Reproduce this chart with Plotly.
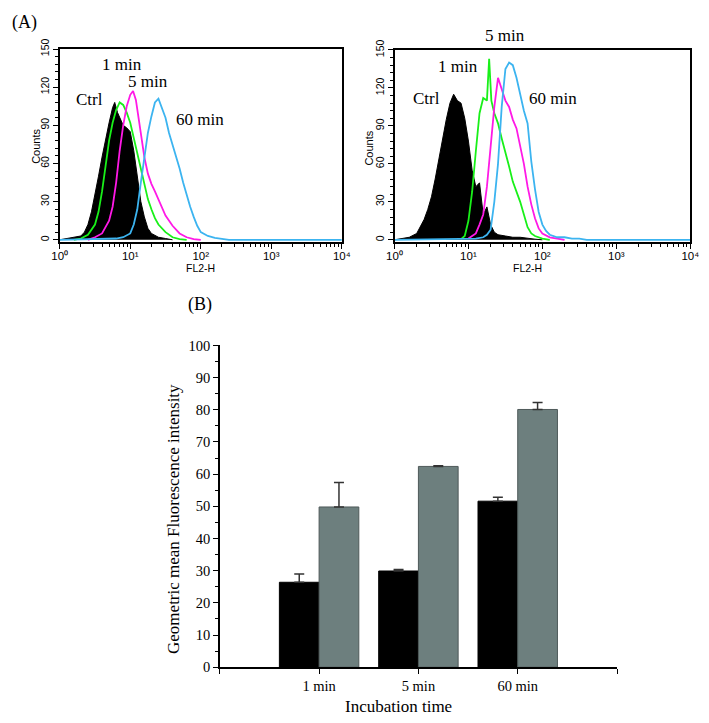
import plotly.graph_objects as go

W, H = 709, 723

# ---------------- Data: flow cytometry histograms (x as log10 FL2-H, y counts) ----------------
# Left panel
ctrl1_logx = [0.0, 0.1, 0.2, 0.3, 0.35, 0.4, 0.45, 0.5, 0.55, 0.6, 0.65, 0.7, 0.75, 0.78, 0.82, 0.86, 0.9,
              0.95, 1.0, 1.05, 1.1, 1.15, 1.2, 1.25, 1.3, 1.4, 1.5, 1.6]
ctrl1_cnt = [0, 1, 2, 3, 6, 12, 22, 35, 50, 65, 80, 92, 104, 108, 100, 95, 90,
             88, 85, 70, 50, 30, 18, 9, 5, 2, 1, 0]
g1_logx = [0.2, 0.3, 0.4, 0.5, 0.55, 0.6, 0.65, 0.7, 0.75, 0.8, 0.85, 0.9, 0.95, 1.0, 1.05, 1.1, 1.15,
           1.2, 1.25, 1.3, 1.35, 1.4, 1.5, 1.6, 1.7, 1.8]
g1_cnt = [0, 1, 4, 12, 22, 38, 58, 78, 92, 102, 108, 106, 100, 92, 80, 68, 56,
          44, 32, 24, 17, 12, 6, 2, 0.5, 0]
m1_logx = [0.4, 0.5, 0.6, 0.7, 0.75, 0.8, 0.85, 0.9, 0.95, 1.0, 1.04, 1.08, 1.12, 1.16, 1.2, 1.25, 1.3,
           1.35, 1.4, 1.45, 1.5, 1.6, 1.7, 1.8, 1.9, 2.0]
m1_cnt = [0, 2, 5, 15, 26, 45, 70, 90, 105, 114, 117, 110, 95, 80, 65, 52, 44,
          38, 32, 25, 19, 11, 5, 2, 0.5, 0]
c1_logx = [0.0, 0.3, 0.8, 0.9, 1.0, 1.05, 1.1, 1.15, 1.2, 1.25, 1.3, 1.35, 1.4, 1.45, 1.5, 1.55, 1.6,
           1.65, 1.7, 1.75, 1.8, 1.85, 1.9, 1.95, 2.0, 2.1, 2.2, 2.3, 2.4, 4.0]
c1_cnt = [0, 0.5, 1, 2, 5, 12, 24, 45, 66, 84, 97, 108, 111, 104, 96, 84, 75,
          66, 56, 45, 35, 26, 18, 11, 6, 3, 1.5, 1, 0, 0]

# Right panel
ctrl2_logx = [0.0, 0.1, 0.2, 0.3, 0.35, 0.4, 0.45, 0.5, 0.55, 0.6, 0.65, 0.7, 0.75, 0.8, 0.85, 0.9, 0.95,
              1.0, 1.05, 1.1, 1.15, 1.2, 1.25, 1.3, 1.35, 1.4, 1.5, 1.6, 1.7, 1.8, 1.9, 2.0]
ctrl2_cnt = [0, 1, 2, 5, 10, 16, 24, 34, 48, 64, 80, 95, 108, 115, 110, 108, 96,
             78, 55, 42, 45, 20, 26, 12, 6, 4, 3, 2, 2, 1, 0.5, 0]
g2_logx = [0.9, 0.95, 1.0, 1.05, 1.1, 1.15, 1.2, 1.25, 1.28, 1.31, 1.35, 1.4, 1.45, 1.5, 1.55, 1.6, 1.65,
           1.7, 1.75, 1.8, 1.85, 1.9, 2.0, 2.1]
g2_cnt = [0.5, 3, 15, 38, 70, 100, 112, 110, 143, 110, 100, 92, 80, 70, 58, 46, 38,
          30, 20, 10, 5, 3, 1, 0]
m2_logx = [1.0, 1.1, 1.15, 1.2, 1.25, 1.3, 1.35, 1.4, 1.45, 1.5, 1.55, 1.6, 1.65, 1.7, 1.75, 1.8, 1.85,
           1.9, 1.95, 2.0, 2.1, 2.2, 2.3]
m2_cnt = [1, 5, 12, 20, 42, 75, 105, 128, 118, 110, 105, 95, 88, 75, 60, 42, 28,
          17, 9, 5, 2, 1, 0]
c2_logx = [0.0, 1.1, 1.2, 1.25, 1.3, 1.35, 1.4, 1.45, 1.5, 1.55, 1.6, 1.65, 1.7, 1.75, 1.8, 1.85, 1.9,
           1.95, 2.0, 2.05, 2.1, 2.2, 2.3, 2.4, 2.5, 2.6, 4.0]
c2_cnt = [0, 1, 2, 4, 8, 30, 60, 105, 135, 140, 138, 128, 115, 102, 92, 62, 40,
          22, 12, 7, 4, 2, 2, 1, 1, 0, 0]

# ---------------- Data: bar chart ----------------
categories = ["1 min", "5 min", "60 min"]
black_vals = [26.4, 29.9, 51.6]
black_err = [2.6, 0.5, 1.2]
gray_vals = [49.8, 62.4, 80.1]
gray_err = [7.6, 0.2, 2.2]

hist_ticks = [1, 10, 100, 1000, 10000]
hist_ticktext = ["10⁰", "10¹", "10²", "10³", "10⁴"]
count_ticks = [0, 30, 60, 90, 120, 150]

GREEN = "#19f019"
MAGENTA = "#ff19e6"
CYAN = "#3cb4f0"
BARGRAY = "#6d7f7e"

SERIF = "Liberation Serif, Times New Roman, serif"
SANS = "Liberation Sans, Arial, sans-serif"


def px_x(p):
    return p / W


def px_y(p):
    return 1 - p / H


def tolin(lx):
    return [10 ** v for v in lx]


fig = go.Figure()


def add_hist(xa, ya, ctrl, curves):
    cx, cy = ctrl
    fig.add_trace(go.Scatter(x=tolin(cx), y=cy, mode="lines", fill="tozeroy",
                             line=dict(color="black", width=1), fillcolor="black",
                             xaxis=xa, yaxis=ya, showlegend=False, hoverinfo="skip"))
    for (lx, ly, col) in curves:
        fig.add_trace(go.Scatter(x=tolin(lx), y=ly, mode="lines",
                                 line=dict(color=col, width=1.8),
                                 xaxis=xa, yaxis=ya, showlegend=False, hoverinfo="skip"))


add_hist("x", "y", (ctrl1_logx, ctrl1_cnt),
         [(g1_logx, g1_cnt, GREEN), (m1_logx, m1_cnt, MAGENTA), (c1_logx, c1_cnt, CYAN)])
add_hist("x2", "y2", (ctrl2_logx, ctrl2_cnt),
         [(g2_logx, g2_cnt, GREEN), (m2_logx, m2_cnt, MAGENTA), (c2_logx, c2_cnt, CYAN)])

# Bars
xpos = [1, 2, 3]
fig.add_trace(go.Bar(x=xpos, y=black_vals, marker=dict(color="black", line=dict(color="black", width=1)),
                     error_y=dict(type="data", array=black_err, arrayminus=[0, 0, 0], symmetric=False,
                                  color="#333333", thickness=1.5, width=5),
                     xaxis="x3", yaxis="y3", showlegend=False, offsetgroup="a"))
fig.add_trace(go.Bar(x=xpos, y=gray_vals, marker=dict(color=BARGRAY, line=dict(color="#4f5a5a", width=1)),
                     error_y=dict(type="data", array=gray_err, arrayminus=[0, 0, 0], symmetric=False,
                                  color="#333333", thickness=1.5, width=5),
                     xaxis="x3", yaxis="y3", showlegend=False, offsetgroup="b"))

log_minor = [m * 10 ** e for e in range(0, 4) for m in range(2, 10)]

hist_x_common = dict(type="log", range=[0, 4], tickvals=hist_ticks, ticktext=hist_ticktext,
                     ticks="outside", ticklen=5, tickwidth=1.2, tickcolor="black",
                     ticklabelstandoff=-3,
                     showline=True, linecolor="black", linewidth=1.5, mirror=True,
                     showgrid=False, zeroline=False,
                     minor=dict(tickvals=log_minor, ticks="outside", ticklen=3, tickcolor="black", tickwidth=1),
                     tickfont=dict(family=SANS, size=11.5, color="black"))
hist_y_common = dict(range=[-1.8, 150], tickvals=count_ticks, ticks="outside", ticklen=5, tickwidth=1.2,
                     tickcolor="black", tickangle=-90,
                     showline=True, linecolor="black", linewidth=1.5, mirror=True,
                     showgrid=False, zeroline=False,
                     minor=dict(dtick=6, tick0=0, ticks="outside", ticklen=3, tickcolor="black", tickwidth=1),
                     tickfont=dict(family=SANS, size=10.5, color="black"))

fig.update_layout(
    width=W, height=H, margin=dict(l=0, r=0, t=0, b=0),
    paper_bgcolor="white", plot_bgcolor="white",
    barmode="group", bargap=0.2, bargroupgap=0,
    xaxis=dict(domain=[px_x(53), px_x(342)], anchor="y", **hist_x_common),
    yaxis=dict(domain=[px_y(238), px_y(40)], anchor="x", **hist_y_common),
    xaxis2=dict(domain=[px_x(396), px_x(699)], anchor="y2", **hist_x_common),
    yaxis2=dict(domain=[px_y(238), px_y(41)], anchor="x2", **hist_y_common),
    xaxis3=dict(domain=[px_x(217), px_x(624)], anchor="y3", range=[0, 4],
                tickvals=[0, 1, 2, 3, 4], ticktext=["", categories[0], categories[1], categories[2], ""],
                ticks="outside", ticklen=5, tickwidth=1.2, tickcolor="black",
                showline=True, linecolor="black", linewidth=1.5, showgrid=False, zeroline=False,
                tickfont=dict(family=SERIF, size=14.5, color="black")),
    yaxis3=dict(domain=[px_y(674), px_y(344)], anchor="x3", range=[0, 100], dtick=10,
                ticks="outside", ticklen=5, tickwidth=1.2, tickcolor="black",
                minor=dict(dtick=5, ticks="outside", ticklen=3, tickcolor="black", tickwidth=1),
                showline=True, linecolor="black", linewidth=1.5, showgrid=False, zeroline=False,
                tickfont=dict(family=SERIF, size=14.5, color="black")),
)

ann = []


def txt(t, x, y, size=17, fam=SERIF, angle=0):
    ann.append(dict(text=t, x=px_x(x), y=px_y(y), xref="paper", yref="paper", showarrow=False,
                    xanchor="center", yanchor="middle", textangle=angle,
                    font=dict(family=fam, size=size, color="black")))


txt("(A)", 17, 13, size=18)
txt("(B)", 197, 302, size=18)
txt("1 min", 117, 56)
txt("5 min", 143, 73)
txt("Ctrl", 83, 92)
txt("60 min", 197, 112)
txt("5 min", 509, 26)
txt("1 min", 461, 58)
txt("Ctrl", 429, 91)
txt("60 min", 558, 91)
txt("Counts", 28, 140, size=11, fam=SANS, angle=-90)
txt("Counts", 370, 142, size=11, fam=SANS, angle=-90)
txt("FL2-H", 197, 265, size=10.5, fam=SANS)
txt("FL2-H", 532, 265, size=10.5, fam=SANS)
txt("Geometric mean Fluorescence intensity", 169, 522, size=17, angle=-90)
txt("Incubation time", 400, 714, size=17)
fig.update_layout(annotations=ann)

fig.write_html("out.html", config={"displayModeBar": False},
               post_script="document.body.style.margin='0';document.body.style.padding='0';")
